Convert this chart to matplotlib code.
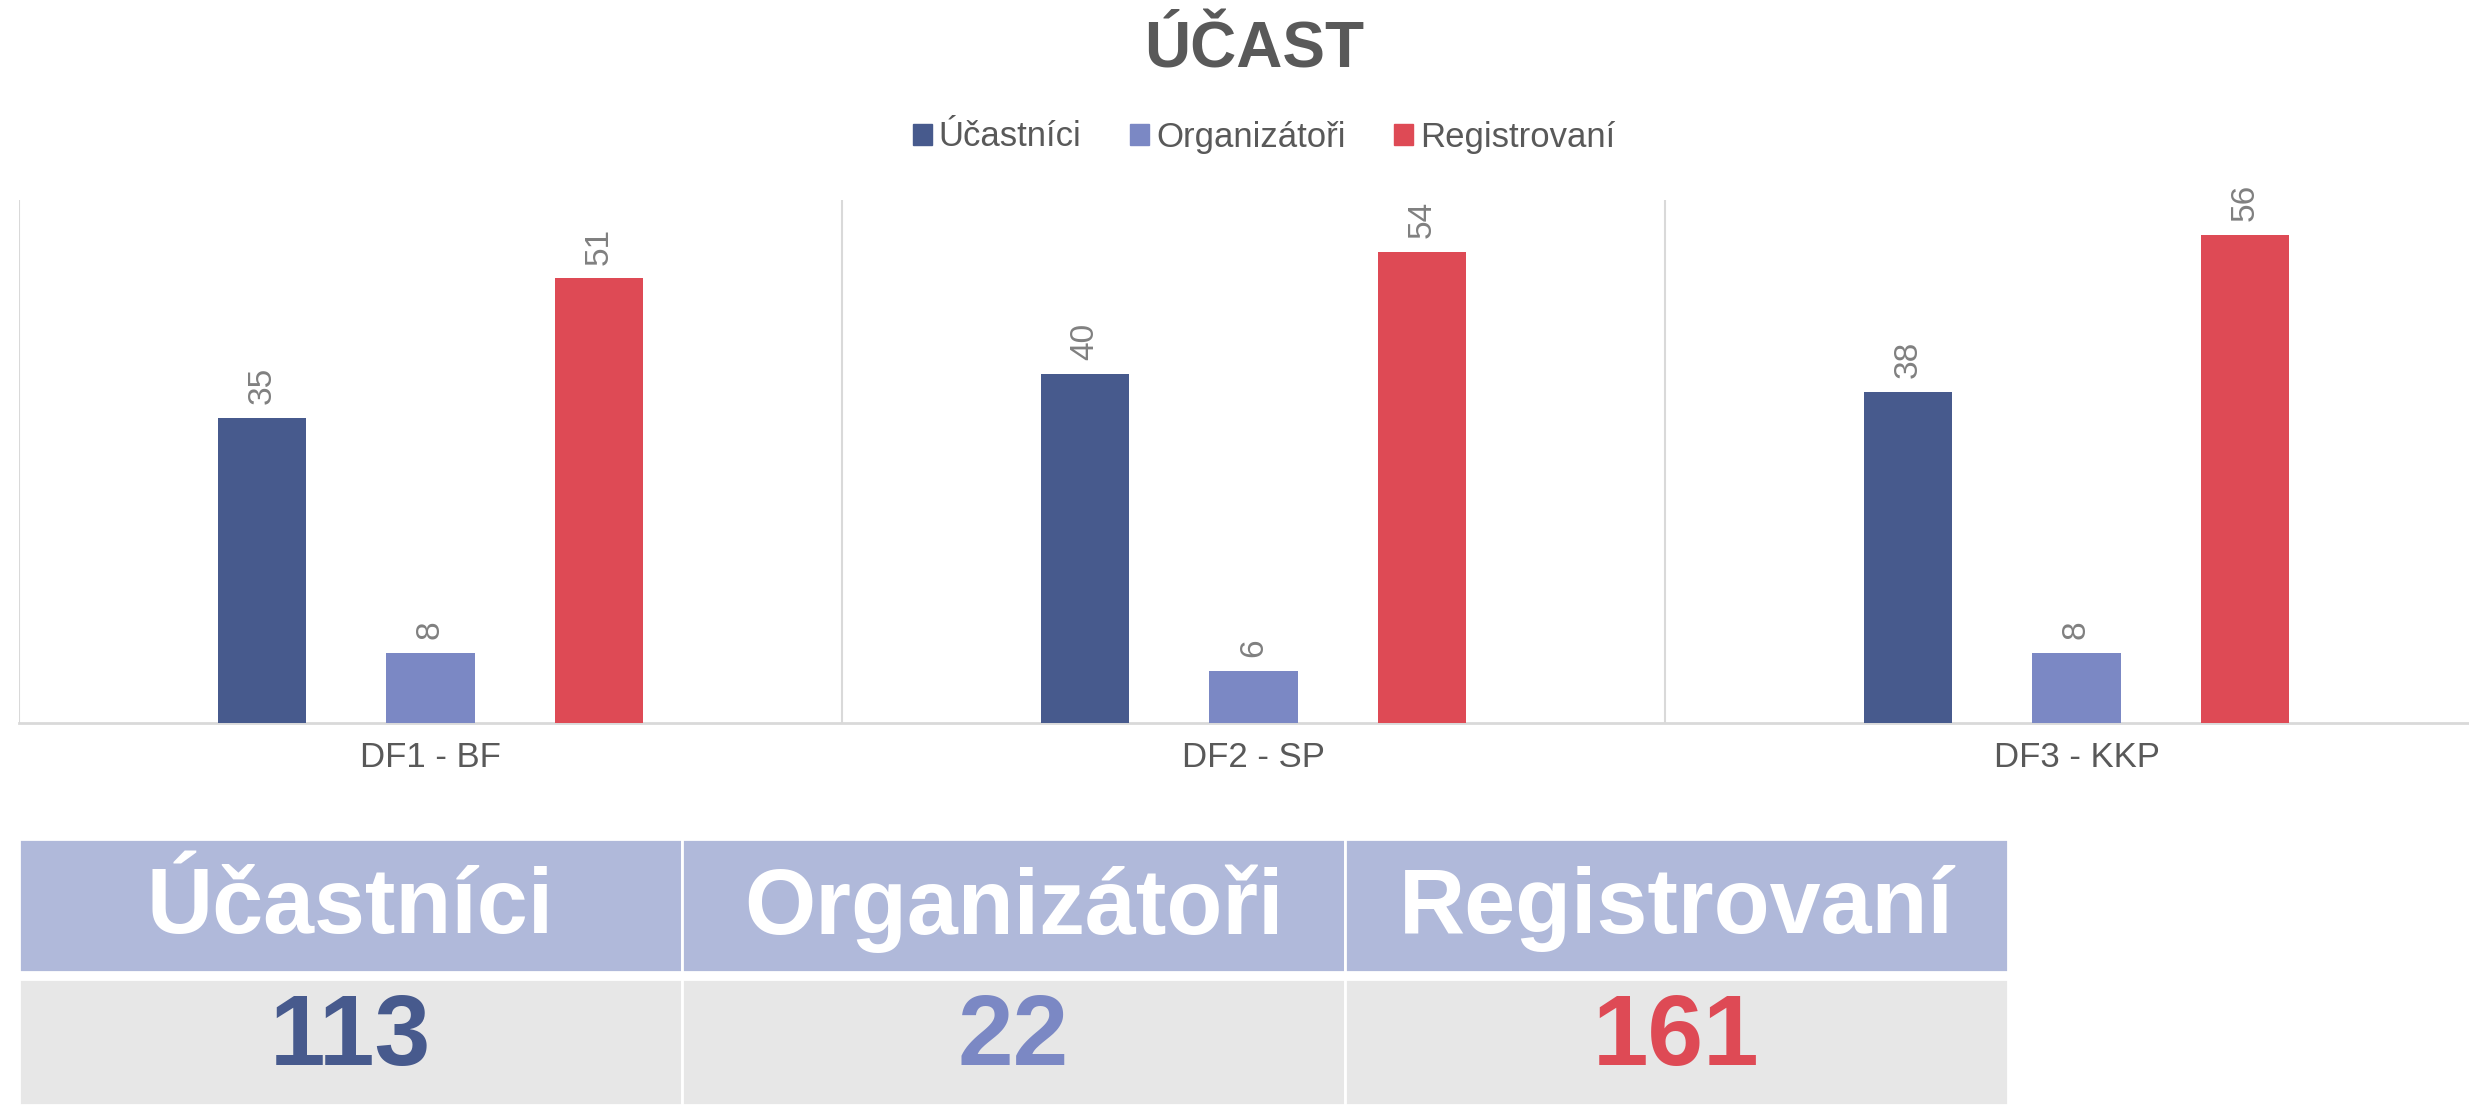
import numpy as np
import matplotlib
matplotlib.use('Agg')
import matplotlib.pyplot as plt
from matplotlib.patches import Patch, Rectangle
from matplotlib import font_manager as fm

categories = ['DF1 - BF', 'DF2 - SP', 'DF3 - KKP']
series = ['Účastníci', 'Organizátoři', 'Registrovaní']
ucastnici = [35, 40, 38]
organizatori = [8, 6, 8]
registrovani = [51, 54, 56]
totals = [113, 22, 161]
colors = ['#475A8D', '#7B88C4', '#DE4A55']

names = {f.name for f in fm.fontManager.ttflist}
font = 'Liberation Sans Narrow' if 'Liberation Sans Narrow' in names else 'Liberation Sans'
plt.rcParams['font.family'] = [font, 'DejaVu Sans']

W, H = 2469, 1105
fig = plt.figure(figsize=(W / 100, H / 100), dpi=100)

# bar chart
ax = fig.add_axes([19 / W, 382 / H, 2469 / W, 523 / H])
x = np.arange(len(categories))
offsets = [-0.205, 0, 0.205]
for vals, off, c in zip([ucastnici, organizatori, registrovani], offsets, colors):
    bars = ax.bar(x + off, vals, width=0.107, color=c, zorder=3)
    ax.bar_label(bars, rotation=90, padding=10, fontsize=24, color='#808080')

ax.set_xlim(-0.5, 2.5)
ax.set_ylim(0, 60)
for b in [-0.5, 0.5, 1.5, 2.5]:
    ax.axvline(b, color='#D9D9D9', lw=1.5, zorder=1)
for s in ['top', 'right', 'left']:
    ax.spines[s].set_visible(False)
ax.spines['bottom'].set_color('#D9D9D9')
ax.spines['bottom'].set_linewidth(2)
ax.set_yticks([])
ax.set_xticks(x)
ax.set_xticklabels(categories, fontsize=25, color='#595959')
ax.tick_params(axis='x', length=0, pad=13)

fig.text(0.508, 1 - 50 / H, 'ÚČAST', ha='center', va='center',
         fontsize=46, fontweight='bold', color='#595959')

handles = [Patch(color=c) for c in colors]
fig.legend(handles, series, loc='center', bbox_to_anchor=(0.512, 1 - 137 / H),
           ncol=3, frameon=False, fontsize=25, handlelength=0.55, handleheight=0.55,
           handletextpad=0.2, columnspacing=1.4, labelcolor='#595959')

# summary table
tx = fig.add_axes([19 / W, 0, 1989 / W, 266 / H])
tx.set_xlim(0, 3)
tx.set_ylim(0, 266)
tx.axis('off')
for i, (name, tot, c) in enumerate(zip(series, totals, colors)):
    tx.add_patch(Rectangle((i, 133), 1, 133, facecolor='#B0B9DA', edgecolor='white', lw=2))
    tx.add_patch(Rectangle((i, 0), 1, 126, facecolor='#E7E7E7', edgecolor='white', lw=2))
    tx.text(i + 0.5, 196, name, ha='center', va='center', fontsize=66,
            fontweight='bold', color='white')
    tx.text(i + 0.5, 66, str(tot), ha='center', va='center', fontsize=72,
            fontweight='bold', color=c)

fig.savefig('out.png', dpi=100)
